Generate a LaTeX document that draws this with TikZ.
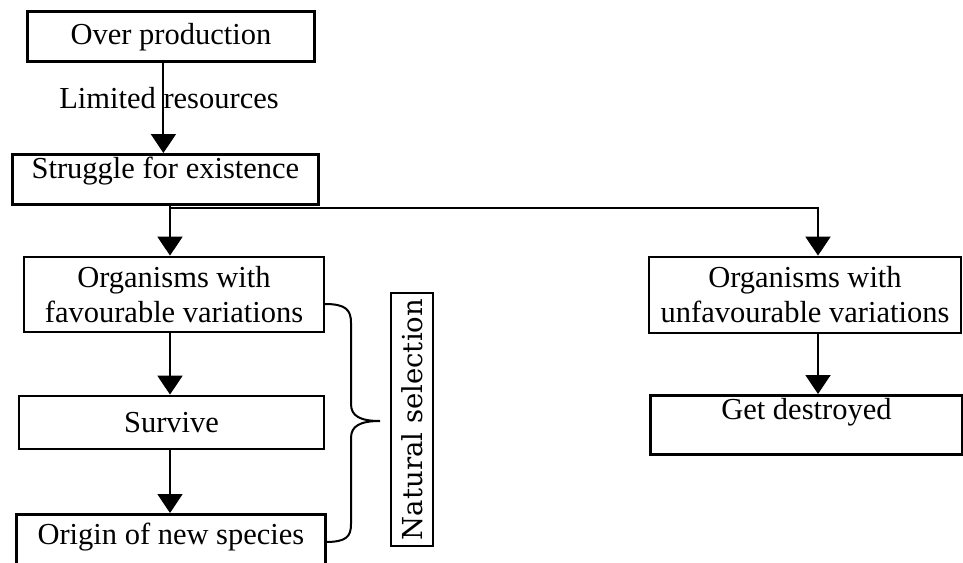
\documentclass[tikz,border=0pt]{standalone}
\usepackage{fontspec}
\setmainfont{Liberation Serif}
\newfontfamily\nsfont{DejaVu Serif}
\usetikzlibrary{arrows.meta}
\begin{document}
\begin{tikzpicture}[x=1pt,y=-1pt,
  box/.style={draw,line width=2.8pt,inner sep=0pt,align=center,
    font=\fontsize{30.5}{35}\selectfont},
  arr/.style={line width=2pt,-{Triangle[width=25pt,length=19pt]}}]
\useasboundingbox (0,0) rectangle (963,562);
\node[box,anchor=north west,minimum width=287pt,text height=33pt,text depth=17pt]
  (over) at (26,10) {Over production};
\node[box,anchor=north west,minimum width=306pt,text height=24pt,text depth=26pt]
  (struggle) at (11,153) {Struggle for existence};
\node[box,minimum width=300pt,minimum height=75pt] (fav) at (174,294.5)
  {Organisms with\\favourable variations};
\node[box,minimum width=305pt,minimum height=53pt] (survive) at (171.5,422.5) {Survive};
\node[box,anchor=north west,minimum width=309pt,text height=30pt,text depth=22pt]
  (origin) at (15,513) {Origin of new species};
\node[box,minimum width=312pt,minimum height=76pt] (unfav) at (805,295)
  {Organisms with\\unfavourable variations};
\node[box,anchor=north west,minimum width=312pt,text height=24pt,text depth=35pt]
  (destroyed) at (649,394) {Get destroyed};
\node[draw,line width=2.6pt,rotate=90,minimum width=253pt,minimum height=42pt,
  inner sep=0pt,font=\nsfont\fontsize{27.5}{30}\selectfont] (natsel) at (412,419.5)
  {Natural selection};
\node[font=\fontsize{30.5}{35}\selectfont] (limres) at (169,98) {Limited resources};
% connectors
\coordinate (split) at (170,208);
\coordinate (splitR) at (818,208);
\draw[arr] ([xshift=-7.5pt]over.south) coordinate (a1) -- (a1 |- struggle.north);
\draw[line width=2pt] (split |- struggle.south) -- (split);
\draw[arr] (split) -- (split |- fav.north);
\draw[arr] (split) -- (splitR) -- (splitR |- unfav.north);
\draw[arr] (split |- fav.south) -- (split |- survive.north);
\draw[arr] (split |- survive.south) -- (split |- origin.north);
\draw[arr] (splitR |- unfav.south) -- (splitR |- destroyed.north);
% brace
\draw[line width=2pt] (325,304) .. controls (346,304) and (351,310) .. (351,323)
  -- (351,404) .. controls (351,416) and (360,421) .. (380,421)
  .. controls (360,421) and (351,426) .. (351,438)
  -- (351,524) .. controls (351,537) and (346,542) .. (325,542);
\end{tikzpicture}
\end{document}
